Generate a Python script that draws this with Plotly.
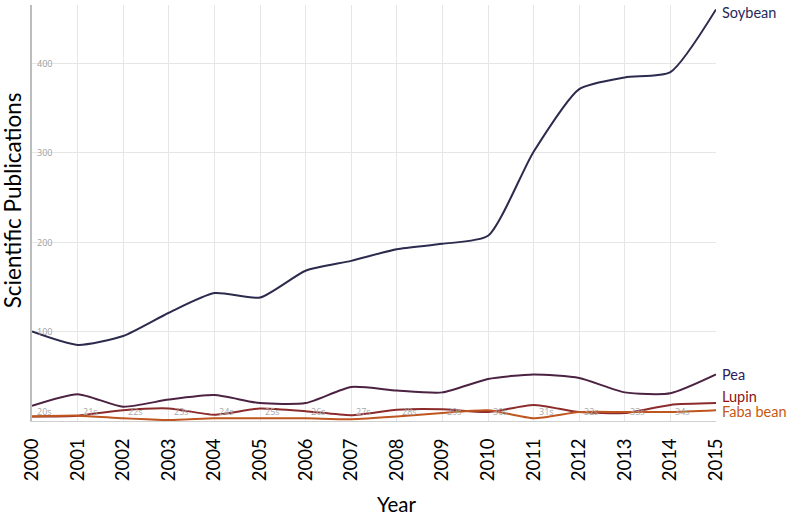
import plotly.graph_objects as go

years = list(range(2000, 2016))
soybean = [100, 85, 95, 121, 143, 138, 168, 179, 192, 198, 207, 301, 371, 384, 390, 460]
pea = [17, 30, 16, 24, 29, 20, 20, 38, 34, 32, 47, 52, 48, 32, 31, 52]
lupin = [5, 6, 12, 14, 7, 14, 11, 6.5, 12.5, 13, 10, 18, 10, 9, 18, 20]
faba = [5, 6, 3, 1, 3, 3, 3, 2, 5, 9, 12, 3, 10, 10, 10, 12]
inner_labels = ["20s", "21s", "22s", "23s", "24s", "25s", "26s", "27s", "28s", "29s",
                "30s", "31s", "32s", "33s", "34s"]
y_ticks = [100, 200, 300, 400]

series = [
    ("Soybean", soybean, "#2c2b4e", "#1f2a5c", -3),
    ("Pea", pea, "#4b2242", "#2e1a5c", 0),
    ("Lupin", lupin, "#8c2b2b", "#8b1212", 7),
    ("Faba bean", faba, "#c0561f", "#c55a11", -1),
]

fig = go.Figure()
for name, vals, lc, tc, ysh in series:
    fig.add_trace(go.Scatter(x=years, y=vals, mode="lines", name=name,
                             line=dict(color=lc, width=2, shape="spline", smoothing=0.6)))

annotations = []
for name, vals, lc, tc, ysh in series:
    annotations.append(dict(x=years[-1], y=vals[-1], xref="x", yref="y", text=name,
                            showarrow=False, xanchor="left", yanchor="middle",
                            xshift=4, yshift=ysh,
                            font=dict(family="Lato", size=14.5, color=tc)))
for yr, lab in zip(years[:-1], inner_labels):
    annotations.append(dict(x=yr, y=0, xref="x", yref="y", text=lab, showarrow=False,
                            xanchor="left", yanchor="bottom", xshift=3, yshift=1,
                            font=dict(family="Open Sans", size=9, color="#a8a8a8")))
for v in y_ticks:
    annotations.append(dict(x=years[0], y=v, xref="x", yref="y", text=str(v), showarrow=False,
                            xanchor="left", yanchor="middle", xshift=3,
                            font=dict(family="Open Sans", size=9, color="#a0a0a0")))
annotations.append(dict(x=-0.029, y=0.531, xref="paper", yref="paper", text="Scientific Publications",
                        showarrow=False, textangle=-90, xanchor="center", yanchor="middle",
                        font=dict(family="Lato", size=22.5, color="#000")))
annotations.append(dict(x=0.534, y=-0.2, xref="paper", yref="paper", text="Year",
                        showarrow=False, xanchor="center", yanchor="middle",
                        font=dict(family="Lato", size=20.5, color="#000")))

fig.update_layout(
    width=794, height=518,
    margin=dict(l=32, r=78, t=5, b=97),
    paper_bgcolor="white", plot_bgcolor="white",
    showlegend=False,
    annotations=annotations,
    xaxis=dict(range=[2000, 2015], tickvals=years, ticktext=[str(y) for y in years],
               tickangle=-90, showgrid=True, gridcolor="#e6e6e6", gridwidth=1,
               showline=True, linecolor="#d0d0d0", linewidth=1, zeroline=False,
               ticks="", ticklabelstandoff=9,
               tickfont=dict(family="Lato", size=18.5, color="#000")),
    yaxis=dict(range=[0, 465], tickvals=y_ticks, showticklabels=False,
               showgrid=True, gridcolor="#e6e6e6", gridwidth=1,
               showline=True, linecolor="#bdbdbd", linewidth=2, zeroline=False,
               ticks=""),
)
fig.write_html("out.html", config={"displayModeBar": False},
               post_script="document.body.style.margin='0';")
